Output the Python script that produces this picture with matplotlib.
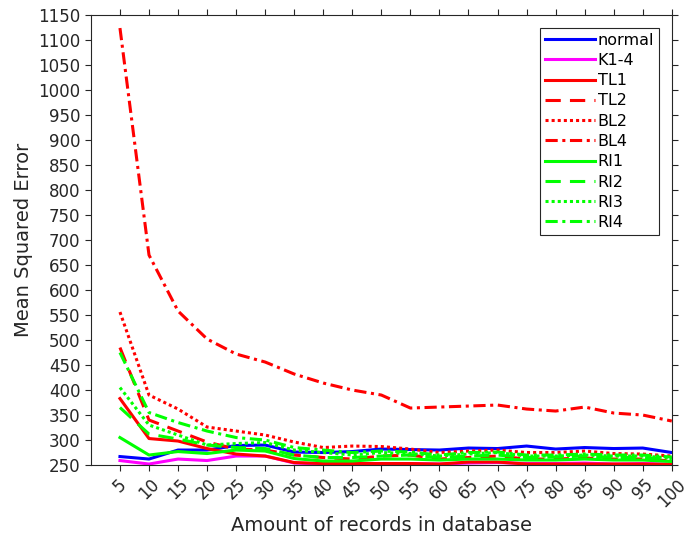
import numpy as np
import matplotlib
matplotlib.use('Agg')
import matplotlib.pyplot as plt

records = [5, 10, 15, 20, 25, 30, 35, 40, 45, 50, 55, 60, 65, 70, 75, 80, 85, 90, 95, 100]

normal = [267, 262, 280, 280, 289, 290, 276, 275, 277, 282, 281, 280, 284, 283, 288, 282, 285, 283, 284, 275]
k14 = [259, 252, 262, 259, 268, 268, 254, 252, 252, 253, 253, 252, 254, 255, 253, 253, 254, 252, 253, 252]
tl1 = [383, 303, 298, 283, 272, 268, 255, 253, 253, 253, 253, 252, 256, 256, 252, 252, 252, 252, 252, 251]
tl2 = [485, 340, 318, 296, 282, 280, 270, 265, 262, 268, 270, 262, 265, 268, 262, 262, 264, 262, 262, 258]
bl2 = [556, 390, 362, 326, 318, 310, 296, 285, 288, 287, 282, 275, 278, 280, 275, 275, 278, 273, 272, 268]
bl4 = [1124, 670, 558, 502, 472, 456, 432, 414, 400, 390, 364, 366, 368, 370, 362, 358, 366, 354, 350, 338]
ri1 = [305, 270, 277, 273, 280, 278, 263, 258, 258, 262, 262, 260, 262, 262, 260, 260, 262, 260, 260, 257]
ri2 = [365, 312, 302, 290, 285, 283, 270, 265, 265, 268, 270, 265, 268, 270, 265, 266, 268, 265, 265, 262]
ri3 = [405, 330, 310, 290, 293, 295, 280, 275, 270, 275, 273, 268, 272, 275, 268, 268, 270, 268, 268, 264]
ri4 = [475, 355, 335, 318, 305, 300, 285, 280, 275, 278, 276, 270, 275, 276, 270, 270, 272, 270, 270, 266]

series = [
    ('normal', normal, 'blue', '-'),
    ('K1-4', k14, 'magenta', '-'),
    ('TL1', tl1, 'red', '-'),
    ('TL2', tl2, 'red', (0, (5, 3))),
    ('BL2', bl2, 'red', (0, (1, 1))),
    ('BL4', bl4, 'red', (0, (4, 1.5, 1, 1.5))),
    ('RI1', ri1, 'lime', '-'),
    ('RI2', ri2, 'lime', (0, (5, 3))),
    ('RI3', ri3, 'lime', (0, (1, 1))),
    ('RI4', ri4, 'lime', (0, (4, 1.5, 1, 1.5))),
]

fig = plt.figure(figsize=(6.94, 5.37), dpi=100)
ax = fig.add_axes([0.131, 0.134, 0.837, 0.838])

for name, vals, col, ls in series:
    ax.plot(records, vals, color=col, linestyle=ls, linewidth=2.2, label=name)

ax.set_xlim(0, 100)
ax.set_ylim(250, 1150)
ax.set_xticks(records)
ax.set_xticklabels([str(r) for r in records], rotation=45, fontsize=12, color='#262626')
ax.set_yticks(np.arange(250, 1151, 50))
ax.tick_params(axis='y', labelsize=12, labelcolor='#262626')
ax.tick_params(direction='out', length=4, top=True, right=True, colors='#262626')
ax.set_xlabel('Amount of records in database', fontsize=14, color='#262626')
ax.set_ylabel('Mean Squared Error', fontsize=14, color='#262626')
for s in ax.spines.values():
    s.set_color('#262626')

leg = ax.legend(loc='upper right', fontsize=11.5, handlelength=3.1, fancybox=False,
                framealpha=1, edgecolor='#262626', borderaxespad=0.8,
                labelspacing=0.33, handletextpad=0.2, borderpad=0.3)
leg.get_frame().set_linewidth(0.8)

fig.savefig('out.png', dpi=100)
